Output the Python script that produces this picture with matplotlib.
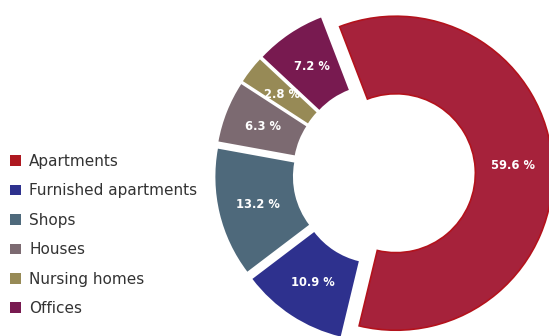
import matplotlib.pyplot as plt
from matplotlib.patches import Patch

# Share of portfolio by property type (%)
categories = ['Apartments', 'Furnished apartments', 'Shops', 'Houses',
              'Nursing homes', 'Offices']
shares = [59.6, 10.9, 13.2, 6.3, 2.8, 7.2]

colors = ['#A6223B', '#2E318E', '#4E697B', '#7C6A71', '#978A56', '#781A50']
legend_colors = ['#AE1820', '#2E318E', '#4E697B', '#7C6A71', '#978A56', '#781A50']

W, H = 549, 336
cx, cy, R = 384, 174, 157  # pie centre and outer radius in pixels

fig = plt.figure(figsize=(W / 100, H / 100), dpi=100)
ax = fig.add_axes([0, 0, 1, 1])

wedges, texts, autotexts = ax.pie(
    shares,
    colors=colors,
    startangle=111,
    counterclock=False,
    explode=[0.076] * len(shares),
    wedgeprops=dict(width=0.494, linewidth=0),
    autopct=lambda p: f'{p:.1f} %',
    pctdistance=0.75,
    textprops=dict(color='white', fontsize=8.3, fontweight='bold',
                   family='DejaVu Sans'),
)

# highlighted slice outline
wedges[0].set_edgecolor('#B3121C')
wedges[0].set_linewidth(1.2)

ax.set_xlim(-cx / R, (W - cx) / R)
ax.set_ylim(-(H - cy) / R, cy / R)
ax.set_aspect('equal')
ax.axis('off')

handles = [Patch(facecolor=c, edgecolor='none') for c in legend_colors]
fig.legend(handles, categories, loc='upper left',
           bbox_to_anchor=(4 / W, 1 - 148 / H), frameon=False,
           handlelength=0.7, handleheight=0.7, handletextpad=0.55,
           labelspacing=0.94, borderaxespad=0,
           prop=dict(family='DejaVu Sans', size=11),
           labelcolor='#333333')

fig.savefig('out.png', dpi=100)
